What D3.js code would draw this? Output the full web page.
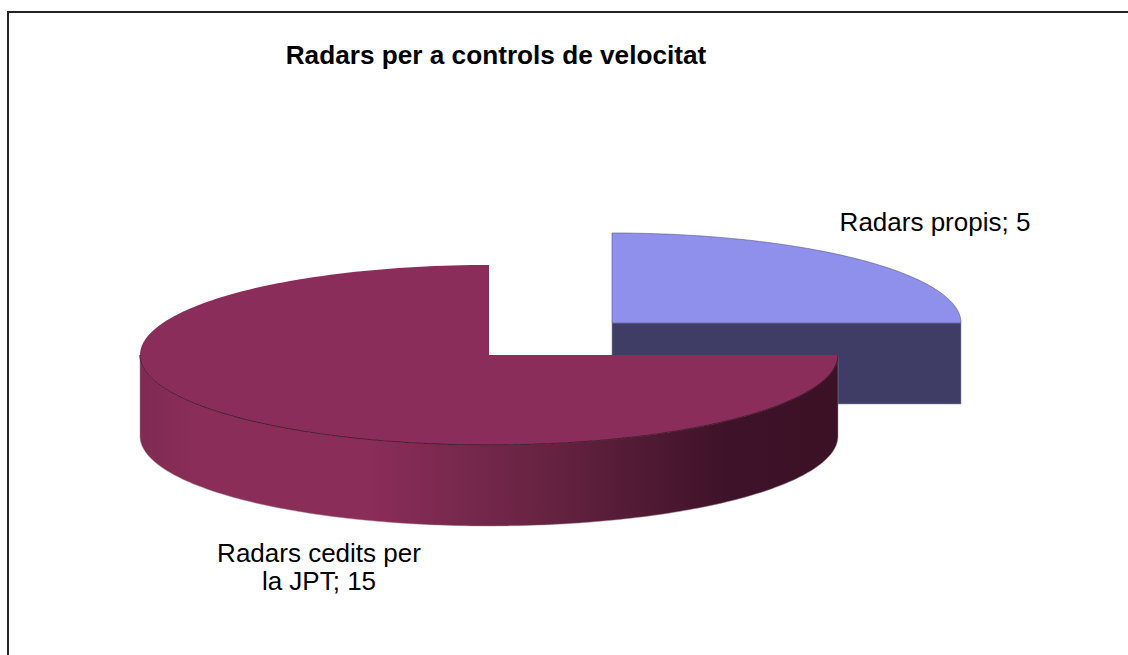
<!DOCTYPE html>
<html>
<head>
<meta charset="utf-8">
<script src="https://cdn.jsdelivr.net/npm/d3@7"></script>
<style>
html, body { margin: 0; padding: 0; background: #fff; overflow: hidden; }
text { font-family: "Liberation Sans", Arial, sans-serif; fill: #000; }
</style>
</head>
<body>
<svg id="svg" width="1128" height="655"></svg>
<script>
var chartTitle = "Radars per a controls de velocitat";
var categories = ["Radars propis", "Radars cedits per la JPT"];
var values = [5, 15];
var labelLines = [["Radars propis; 5"], ["Radars cedits per", "la JPT; 15"]];

var svg = d3.select("#svg");
var rx = 349, ry = 90, depth = 81;

// unit circle -> pixels, the pie is tilted so y is squashed
var x = d3.scaleLinear().domain([-1, 1]).range([-rx, rx]);
var y = d3.scaleLinear().domain([-1, 1]).range([-ry, ry]);

var pie = d3.pie().sort(null).value(function(d) { return d; });
var arcs = pie(values);

var line = d3.line()
    .x(function(d) { return x(d[0]); })
    .y(function(d) { return y(d[1]) + (d[2] || 0); });

function rim(a0, a1, drop) {
    var steps = 180;
    return d3.range(steps + 1).map(function(i) {
        var a = a0 + (a1 - a0) * i / steps;
        return [Math.sin(a), -Math.cos(a), drop];
    });
}

function topFace(d) {
    return line([[0, 0]].concat(rim(d.startAngle, d.endAngle, 0))) + "Z";
}

function sideWall(a0, a1) {
    return line(rim(a0, a1, 0).concat(rim(a1, a0, depth))) + "Z";
}

var defs = svg.append("defs");
var grad = defs.append("linearGradient")
    .attr("id", "wall")
    .attr("gradientUnits", "userSpaceOnUse")
    .attr("x1", -rx).attr("x2", rx).attr("y1", 0).attr("y2", 0);
var stops = [[0, "#7f2a53"], [0.08, "#8a2d59"], [0.33, "#8a2d59"], [0.6, "#642240"], [0.84, "#3e1228"], [1, "#3c1126"]];
grad.selectAll("stop").data(stops).enter().append("stop")
    .attr("offset", function(d) { return d[0]; })
    .attr("stop-color", function(d) { return d[1]; });

// frame runs off the right and bottom of the picture
svg.append("rect")
    .attr("x", 8).attr("y", 12)
    .attr("width", 1200).attr("height", 700)
    .attr("fill", "#fff")
    .attr("stroke", "#222")
    .attr("stroke-width", 2);

svg.append("text")
    .attr("x", 496).attr("y", 64)
    .attr("text-anchor", "middle")
    .attr("font-size", 26.2)
    .attr("font-weight", "bold")
    .text(chartTitle);

// blue slice, pulled out
var blue = svg.append("g").attr("transform", "translate(612,323)");
blue.append("path")
    .attr("d", line([[0, 0], [1, 0], [1, 0, depth], [0, 0, depth]]) + "Z")
    .attr("fill", "#3f3d66")
    .attr("stroke", "#8e8e9e")
    .attr("stroke-width", 0.6);
blue.append("path")
    .attr("d", topFace(arcs[0]))
    .attr("fill", "#8f8fec")
    .attr("stroke", "#55557f")
    .attr("stroke-width", 0.6);

// maroon slice
var maroon = svg.append("g").attr("transform", "translate(489,355)");
maroon.append("path")
    .attr("d", sideWall(Math.PI / 2, Math.PI * 3 / 2))
    .attr("fill", "url(#wall)")
    .attr("stroke", "#9a8a92")
    .attr("stroke-width", 0.5);
maroon.append("path")
    .attr("d", topFace(arcs[1]))
    .attr("fill", "#8b2d5a");
// only the front edge of the top carries a dark line
maroon.append("path")
    .attr("d", line(rim(Math.PI / 2, Math.PI * 3 / 2, 0)))
    .attr("fill", "none")
    .attr("stroke", "#2e0d1d")
    .attr("stroke-width", 0.8);

var labelPos = [[935, 231], [319, 562]];
svg.selectAll(".label").data(labelLines).enter().append("text")
    .attr("class", "label")
    .attr("text-anchor", "middle")
    .attr("font-size", 26)
    .each(function(d, i) {
        d3.select(this).selectAll("tspan").data(d).enter().append("tspan")
            .attr("x", labelPos[i][0])
            .attr("y", function(t, j) { return labelPos[i][1] + j * 28; })
            .text(function(t) { return t; });
    });
</script>
</body>
</html>
